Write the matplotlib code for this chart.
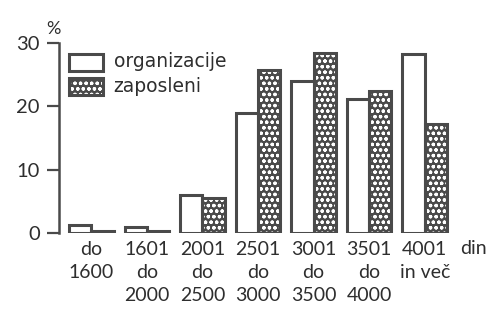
import numpy as np
import matplotlib
matplotlib.use('Agg')
import matplotlib.pyplot as plt
from matplotlib.patches import Rectangle

plt.rcParams['font.family'] = ['Lato', 'DejaVu Sans']

# Podatki
razredi = ['do\n1600', '1601\ndo\n2000', '2001\ndo\n2500', '2501\ndo\n3000',
           '3001\ndo\n3500', '3501\ndo\n4000', '4001\nin več']
organizacije = [1.3, 1.0, 6.0, 19.0, 24.0, 21.2, 28.3]
zaposleni = [0.3, 0.3, 5.6, 25.7, 28.4, 22.4, 17.2]

temna = '#4a4a4a'
besedilo = '#2e2e2e'
x = np.arange(len(razredi))
w = 0.4

fig = plt.figure(figsize=(4.89, 3.09), dpi=100)
ax = fig.add_axes([0.121, 0.246, 0.86, 0.615])

plt.rcParams['hatch.linewidth'] = 0.9
# organizacije - prazni stolpci
ax.bar(x - w / 2, organizacije, w, facecolor='white', edgecolor=temna, linewidth=2.2)
# zaposleni - temni stolpci s pikami
ax.bar(x + w / 2, zaposleni, w, facecolor=temna, edgecolor='white', hatch='ooo', linewidth=0)
ax.bar(x + w / 2, zaposleni, w, facecolor='none', edgecolor=temna, linewidth=2.2)

ax.set_xlim(-0.58, 6.99)
ax.set_ylim(0, 30)
ax.set_yticks([0, 10, 20, 30])
ax.set_xticks(x, razredi, linespacing=1.4)
ax.tick_params(axis='x', length=0, pad=6, labelsize=14, colors=besedilo)
ax.tick_params(axis='y', length=9, width=1.6, color=temna, labelsize=14.5, colors=besedilo, pad=5)

# Osi
for spine in ax.spines.values():
    if spine.spine_type == 'left':
        spine.set_linewidth(1.8)
        spine.set_color(temna)
    else:
        spine.set_visible(False)

ax.text(-0.82, 31.0, '%', fontsize=13, color=besedilo, ha='left', va='bottom')
ax.text(7.11, -1.1, 'din', fontsize=14, color=besedilo, ha='right', va='top')

# Legenda
ax.add_patch(Rectangle((-0.4, 25.6), 0.6, 2.6, facecolor='white', edgecolor=temna,
                       linewidth=2.2, clip_on=False))
ax.add_patch(Rectangle((-0.4, 21.8), 0.6, 2.6, facecolor=temna, edgecolor='white',
                       hatch='ooo', linewidth=0, clip_on=False))
ax.add_patch(Rectangle((-0.4, 21.8), 0.6, 2.6, facecolor='none', edgecolor=temna,
                       linewidth=2.2, clip_on=False))
ax.text(0.4, 27.0, 'organizacije', fontsize=13.5, family='DejaVu Sans', color=besedilo, va='center')
ax.text(0.4, 23.1, 'zaposleni', fontsize=13.5, family='DejaVu Sans', color=besedilo, va='center')

plt.savefig('out.png', dpi=100)
